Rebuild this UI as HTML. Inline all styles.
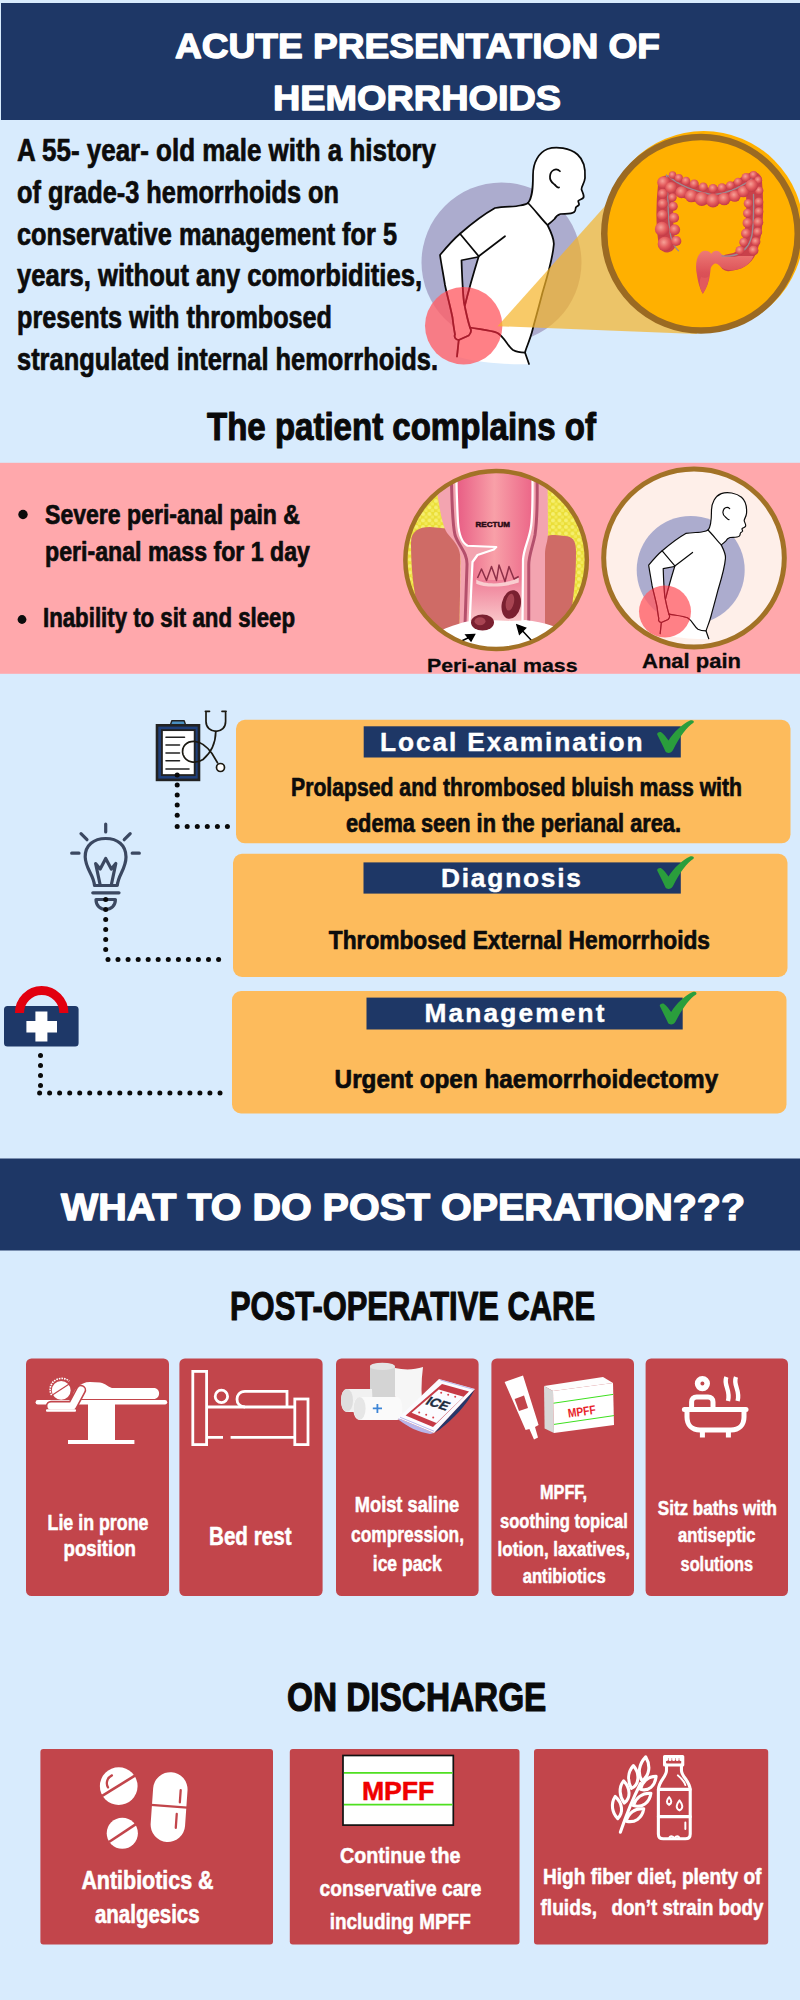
<!DOCTYPE html>
<html><head><meta charset="utf-8"><title>Acute presentation of hemorrhoids</title>
<style>
html,body{margin:0;padding:0;background:#d8ebfd;}
svg{display:block;font-family:"Liberation Sans",sans-serif;}
</style></head><body>
<svg width="800" height="2000" viewBox="0 0 800 2000">
<rect width="800" height="2000" fill="#d8ebfd"/>
<rect x="1" y="3" width="799" height="117" fill="#1e3766"/>
<text x="175" y="58" font-size="35" font-weight="bold" fill="#fff" stroke="#fff" stroke-width="1.3" stroke-linejoin="round" textLength="485" lengthAdjust="spacingAndGlyphs" >ACUTE PRESENTATION OF</text>
<text x="273" y="110" font-size="35" font-weight="bold" fill="#fff" stroke="#fff" stroke-width="1.3" stroke-linejoin="round" textLength="288" lengthAdjust="spacingAndGlyphs" >HEMORRHOIDS</text>
<text x="17" y="161.0" font-size="30.5" font-weight="bold" fill="#0c0c0c" stroke="#0c0c0c" stroke-width="0.7" stroke-linejoin="round" textLength="419" lengthAdjust="spacingAndGlyphs" >A 55- year- old male with a history</text>
<text x="17" y="202.8" font-size="30.5" font-weight="bold" fill="#0c0c0c" stroke="#0c0c0c" stroke-width="0.7" stroke-linejoin="round" textLength="322" lengthAdjust="spacingAndGlyphs" >of grade-3 hemorrhoids on</text>
<text x="17" y="244.6" font-size="30.5" font-weight="bold" fill="#0c0c0c" stroke="#0c0c0c" stroke-width="0.7" stroke-linejoin="round" textLength="380" lengthAdjust="spacingAndGlyphs" >conservative management for 5</text>
<text x="17" y="286.4" font-size="30.5" font-weight="bold" fill="#0c0c0c" stroke="#0c0c0c" stroke-width="0.7" stroke-linejoin="round" textLength="405" lengthAdjust="spacingAndGlyphs" >years, without any comorbidities,</text>
<text x="17" y="328.2" font-size="30.5" font-weight="bold" fill="#0c0c0c" stroke="#0c0c0c" stroke-width="0.7" stroke-linejoin="round" textLength="315" lengthAdjust="spacingAndGlyphs" >presents with thrombosed</text>
<text x="17" y="370.0" font-size="30.5" font-weight="bold" fill="#0c0c0c" stroke="#0c0c0c" stroke-width="0.7" stroke-linejoin="round" textLength="421" lengthAdjust="spacingAndGlyphs" >strangulated internal hemorrhoids.</text>
<defs>
<path id="manfill" fill="#fff" fill-rule="evenodd" d="M432,292 C450,270 452,230 452,180 C452,130 475,90 510,76 C545,64 600,72 630,98 C655,120 662,160 660,192 C658,215 645,225 646,238 C650,250 658,262 654,270 C650,278 636,278 633,284 C632,290 638,294 636,299 C632,305 624,306 623,311 C622,318 622,324 617,328 C605,338 580,334 562,336 C548,340 542,348 538,356 C528,366 518,374 510,380 C525,410 538,440 535,460 C530,520 505,600 490,650 C475,710 460,760 450,800 C440,840 425,870 420,890 L436,936 C380,940 250,935 148,906 L155,840 C140,838 136,826 140,818 C135,790 132,770 130,750 C120,700 108,660 100,620 C92,570 84,530 80,500 C105,470 130,440 160,415 C200,380 250,340 300,312 C340,305 380,308 400,302 C415,300 425,298 432,292 Z M232,508 L166,521 C168,580 170,640 176,690 L180,700 C195,640 215,570 232,508 Z"/>
<g id="manlines" fill="none" stroke-width="7" stroke-linecap="round" stroke-linejoin="round">
<path d="M432,292 C450,270 452,230 452,180 C452,130 475,90 510,76 C545,64 600,72 630,98 C655,120 662,160 660,192 C658,215 645,225 646,238 C650,250 658,262 654,270 C650,278 636,278 633,284 C632,290 638,294 636,299 C632,305 624,306 623,311 C622,318 622,324 617,328 C605,338 580,334 562,336 C548,340 542,348 538,356 C528,366 518,374 510,380"/>
<path d="M560,165 C545,150 522,160 520,185 C518,205 530,212 538,218 C545,224 548,232 556,230"/>
<path d="M432,292 C460,320 485,355 510,380 C525,410 538,440 535,460 C530,520 505,600 490,650 C475,710 460,760 450,800 C440,840 425,870 420,890 L436,936"/>
<path d="M432,292 C425,298 415,300 400,302 C380,308 340,305 300,312 C250,340 200,380 160,415 L235,505 L340,425"/>
<path d="M160,415 C130,440 105,470 80,500 C84,530 92,570 100,620 C108,660 120,700 130,750 C132,770 135,790 140,818 C136,826 140,838 155,840 L195,822 C205,812 206,800 200,790 C190,760 182,720 176,690 C170,640 168,580 166,521 L232,508"/>
<path d="M235,505 C215,570 195,640 180,700"/>
<path d="M155,840 L148,906"/>
<path d="M200,790 C240,798 280,800 310,812 C340,830 350,865 372,880 C390,890 405,890 420,890"/>
</g>
<clipPath id="redclip1"><circle cx="463.7" cy="325.8" r="38.7"/></clipPath>
<clipPath id="redclip2"><circle cx="665" cy="611.6" r="26"/></clipPath>
<radialGradient id="cg" cx="0.42" cy="0.38" r="0.62"><stop offset="0" stop-color="#f7a096"/><stop offset="0.55" stop-color="#e55f60"/><stop offset="1" stop-color="#c43a46"/></radialGradient>
<linearGradient id="cg2" x1="0" x2="0" y1="0" y2="1"><stop offset="0" stop-color="#ee7a76"/><stop offset="0.5" stop-color="#dc5258"/><stop offset="1" stop-color="#cc4450"/></linearGradient>
</defs>
<circle cx="501.5" cy="262.5" r="80" fill="#acacce"/>
<use href="#manfill" transform="translate(420,130) scale(0.25)"/><use href="#manlines" stroke="#0a0a0a" transform="translate(420,130) scale(0.25)"/>
<circle cx="463.7" cy="325.8" r="38.7" fill="#ff6068" fill-opacity="0.8"/>
<g clip-path="url(#redclip1)"><use href="#manlines" stroke="#a81c2c" transform="translate(420,130) scale(0.25)"/></g>
<polygon points="497.5,326.2 640,167 697,334" fill="#f5b428" fill-opacity="0.7"/>
<circle cx="703.7" cy="231.1" r="100" fill="#ffb000"/>
<circle cx="701" cy="233.8" r="96.75" fill="#ffb000" stroke="#9b6a22" stroke-width="6.5"/>
<g transform="translate(650,160) scale(0.15)">
<path d="M115,560 C95,450 95,300 110,160 C250,190 330,250 420,240 C510,235 590,190 690,135 C705,300 700,450 670,560 C650,640 600,680 520,685" fill="none" stroke="#c9414a" stroke-width="112" stroke-linecap="round" stroke-linejoin="round"/>
<path d="M690,640 C660,720 560,750 500,728 C465,715 455,690 438,690 C425,690 415,700 405,720 L400,760 C395,800 385,840 352,892 C325,840 318,800 312,760 C300,700 310,640 340,615 C365,598 395,605 408,625 C425,600 455,600 470,620 C490,645 540,655 590,640 Z" fill="url(#cg2)"/>
<path d="M352,892 C330,850 325,810 340,780 C360,790 380,785 392,775 C392,810 380,850 352,892Z" fill="#e2595c"/>
<path d="M110,100 C120,160 118,300 125,400 C130,480 140,560 190,605 M120,105 C170,150 250,200 420,232 C560,215 640,160 700,108 M690,230 C692,330 692,420 680,500 C660,590 600,650 480,640" fill="none" stroke="#9a8a92" stroke-width="9" stroke-linecap="round"/>
<circle cx="90" cy="150" r="42" fill="url(#cg)"/>
<circle cx="85" cy="225" r="33" fill="url(#cg)"/>
<circle cx="85" cy="292" r="34" fill="url(#cg)"/>
<circle cx="83" cy="368" r="36" fill="url(#cg)"/>
<circle cx="80" cy="460" r="48" fill="url(#cg)"/>
<circle cx="100" cy="560" r="49" fill="url(#cg)"/>
<circle cx="140" cy="185" r="39" fill="url(#cg)"/>
<circle cx="150" cy="250" r="28" fill="url(#cg)"/>
<circle cx="155" cy="308" r="30" fill="url(#cg)"/>
<circle cx="160" cy="385" r="34" fill="url(#cg)"/>
<circle cx="165" cy="465" r="36" fill="url(#cg)"/>
<circle cx="175" cy="540" r="34" fill="url(#cg)"/>
<circle cx="150" cy="100" r="25" fill="url(#cg)"/>
<circle cx="192" cy="120" r="27" fill="url(#cg)"/>
<circle cx="240" cy="140" r="29" fill="url(#cg)"/>
<circle cx="295" cy="160" r="30" fill="url(#cg)"/>
<circle cx="355" cy="180" r="30" fill="url(#cg)"/>
<circle cx="420" cy="190" r="30" fill="url(#cg)"/>
<circle cx="480" cy="185" r="30" fill="url(#cg)"/>
<circle cx="535" cy="170" r="28" fill="url(#cg)"/>
<circle cx="587" cy="146" r="28" fill="url(#cg)"/>
<circle cx="640" cy="116" r="30" fill="url(#cg)"/>
<circle cx="690" cy="100" r="26" fill="url(#cg)"/>
<circle cx="655" cy="290" r="30" fill="url(#cg)"/>
<circle cx="650" cy="355" r="30" fill="url(#cg)"/>
<circle cx="650" cy="420" r="33" fill="url(#cg)"/>
<circle cx="640" cy="490" r="33" fill="url(#cg)"/>
<circle cx="625" cy="548" r="30" fill="url(#cg)"/>
<circle cx="600" cy="603" r="30" fill="url(#cg)"/>
<circle cx="722" cy="135" r="26" fill="url(#cg)"/>
<circle cx="728" cy="205" r="28" fill="url(#cg)"/>
<circle cx="726" cy="280" r="30" fill="url(#cg)"/>
<circle cx="726" cy="345" r="30" fill="url(#cg)"/>
<circle cx="722" cy="415" r="33" fill="url(#cg)"/>
<circle cx="718" cy="480" r="30" fill="url(#cg)"/>
<circle cx="706" cy="545" r="30" fill="url(#cg)"/>
<circle cx="690" cy="603" r="33" fill="url(#cg)"/>
<circle cx="210" cy="215" r="40" fill="url(#cg)"/>
<circle cx="275" cy="240" r="42" fill="url(#cg)"/>
<circle cx="345" cy="260" r="46" fill="url(#cg)"/>
<circle cx="420" cy="270" r="46" fill="url(#cg)"/>
<circle cx="495" cy="260" r="42" fill="url(#cg)"/>
<circle cx="565" cy="240" r="39" fill="url(#cg)"/>
<circle cx="622" cy="210" r="39" fill="url(#cg)"/>
<circle cx="678" cy="170" r="42" fill="url(#cg)"/>
</g>
<text x="207" y="440.3" font-size="39.5" font-weight="bold" fill="#0a0a0a" stroke="#0a0a0a" stroke-width="1.1" stroke-linejoin="round" textLength="389" lengthAdjust="spacingAndGlyphs" >The patient complains of</text>
<rect x="0" y="462.8" width="800" height="211" fill="#ffa8ac"/>
<circle cx="23" cy="514.5" r="4.7" fill="#0c0c0c"/><circle cx="22" cy="619.5" r="4.4" fill="#0c0c0c"/>
<text x="45" y="523.5" font-size="27" font-weight="bold" fill="#0c0c0c" stroke="#0c0c0c" stroke-width="0.7" stroke-linejoin="round" textLength="255" lengthAdjust="spacingAndGlyphs" >Severe peri-anal pain &amp;</text>
<text x="45" y="561.3" font-size="27" font-weight="bold" fill="#0c0c0c" stroke="#0c0c0c" stroke-width="0.7" stroke-linejoin="round" textLength="265" lengthAdjust="spacingAndGlyphs" >peri-anal mass for 1 day</text>
<text x="43" y="627.3" font-size="27" font-weight="bold" fill="#0c0c0c" stroke="#0c0c0c" stroke-width="0.7" stroke-linejoin="round" textLength="252" lengthAdjust="spacingAndGlyphs" >Inability to sit and sleep</text>
<defs><clipPath id="rc"><ellipse cx="404.4" cy="400" rx="358" ry="351"/></clipPath>
<pattern id="fat" width="26" height="26" patternUnits="userSpaceOnUse"><rect width="26" height="26" fill="#ebde38"/><circle cx="8" cy="8" r="8" fill="#f6ef70"/><circle cx="20" cy="20" r="7" fill="#f3ea5a"/></pattern>
<linearGradient id="rg" x1="0" x2="1" y1="0" y2="0"><stop offset="0" stop-color="#e85c84"/><stop offset="0.5" stop-color="#f8a0a8"/><stop offset="1" stop-color="#ec6688"/></linearGradient>
<linearGradient id="rg2" x1="0" x2="0" y1="0" y2="1"><stop offset="0" stop-color="#ef7f98"/><stop offset="1" stop-color="#fbd0d0"/></linearGradient>
</defs>
<g transform="translate(395,460) scale(0.25)">
<g clip-path="url(#rc)">
<rect x="30" y="30" width="750" height="750" fill="url(#fat)"/>
<path d="M64,330 C64,285 95,268 140,268 L215,275 C250,290 262,330 262,400 L258,680 L120,680 C85,600 64,480 64,330 Z" fill="#cf6b66"/>
<path d="M588,330 C592,305 610,300 640,300 L690,305 C715,310 724,330 724,370 C724,480 712,580 690,680 L588,680 Z" fill="#cf6b66"/>
<path d="M170,40 L610,40 L612,290 C612,330 600,340 600,380 L600,680 L258,680 L262,400 C262,350 240,330 215,300 C190,275 180,200 170,140 Z" fill="#f3a4b0"/>
<path d="M225,60 C228,150 228,250 240,300 C255,345 290,370 288,420 L280,660" fill="none" stroke="#b4506c" stroke-width="12"/>
<path d="M568,60 C570,150 570,230 560,300 C550,350 535,380 535,420 L535,660" fill="none" stroke="#b4506c" stroke-width="12"/>
<path d="M245,40 L550,40 C550,120 552,200 545,260 C538,320 515,350 512,400 L510,660 L298,660 L310,408 L330,380 L395,358 L405,348 L290,343 C265,330 255,290 252,250 C248,180 246,110 245,40 Z" fill="url(#rg)"/>
<rect x="304" y="480" width="208" height="190" fill="url(#rg2)"/>
<path d="M245,40 C246,110 248,180 252,250 C255,290 265,330 290,343 L405,348 L395,358 L330,380 L310,408 L298,660" fill="none" stroke="#fff" stroke-width="9" stroke-linejoin="round"/>
<path d="M550,40 C550,120 552,200 545,260 C538,320 515,350 512,400 L510,660" fill="none" stroke="#fff" stroke-width="9"/>
<path d="M325,478 C360,500 440,500 495,470 L495,490 C440,510 360,512 325,495 Z" fill="#f9cdd0"/>
<path d="M330,472 L346,436 L366,482 L386,426 L406,482 L416,420 L440,486 L456,426 L476,476 L495,466" fill="none" stroke="#8e3048" stroke-width="6" stroke-linejoin="round"/>
<path d="M100,720 C160,690 250,650 300,645 C380,635 460,650 520,640 C600,650 660,670 720,700 L720,800 L100,800 Z" fill="#fff"/>
<ellipse cx="350" cy="650" rx="46" ry="32" fill="#7a2030"/><ellipse cx="340" cy="645" rx="22" ry="16" fill="#a84452"/>
<ellipse cx="465" cy="578" rx="38" ry="58" fill="#7a2030" transform="rotate(12 465 578)"/><ellipse cx="458" cy="570" rx="16" ry="34" fill="#a84452" transform="rotate(12 465 578)"/>
<path d="M262,726 L300,708 M318,698 L284,700 L304,724 Z" stroke="#000" stroke-width="6" fill="#000"/>
<path d="M548,724 L505,678 M488,660 L498,696 L522,672 Z" stroke="#000" stroke-width="6" fill="#000"/>
</g>
<ellipse cx="404.4" cy="400" rx="363" ry="356" fill="none" stroke="#a27226" stroke-width="18"/>
</g>
<text x="475.5" y="527" font-size="8" font-weight="bold" fill="#2a0a14" stroke="#2a0a14" stroke-width="0.5" stroke-linejoin="round" textLength="34.5" lengthAdjust="spacingAndGlyphs" >RECTUM</text>
<text x="427" y="672.1" font-size="19.2" font-weight="bold" fill="#0a0a0a" stroke="#0a0a0a" stroke-width="0.3" stroke-linejoin="round" textLength="150.5" lengthAdjust="spacingAndGlyphs" >Peri-anal mass</text>
<ellipse cx="694" cy="558" rx="90.3" ry="89" fill="#feefe9" stroke="#a27226" stroke-width="5"/>
<circle cx="690.7" cy="570" r="54" fill="#acacce"/>
<use href="#manfill" transform="translate(690.2,570.2) scale(0.675) translate(-501.5,-262.5) translate(420,130) scale(0.25)"/><use href="#manlines" stroke="#0a0a0a" transform="translate(690.2,570.2) scale(0.675) translate(-501.5,-262.5) translate(420,130) scale(0.25)"/>
<circle cx="665" cy="611.6" r="26" fill="#ff6068" fill-opacity="0.8"/>
<g clip-path="url(#redclip2)"><use href="#manlines" stroke="#a81c2c" transform="translate(690.2,570.2) scale(0.675) translate(-501.5,-262.5) translate(420,130) scale(0.25)"/></g>
<text x="642" y="667.7" font-size="19.8" font-weight="bold" fill="#0a0a0a" stroke="#0a0a0a" stroke-width="0.3" stroke-linejoin="round" textLength="99" lengthAdjust="spacingAndGlyphs" >Anal pain</text>
<rect x="236" y="719.8" width="554.5" height="123.5" rx="9" fill="#fdbb5c"/>
<rect x="233" y="853.8" width="554.5" height="123.2" rx="9" fill="#fdbb5c"/>
<rect x="232" y="991" width="554.5" height="122.5" rx="9" fill="#fdbb5c"/>
<rect x="363.7" y="726.3" width="317.1" height="31.2" fill="#1e3766"/>
<rect x="363.5" y="862.4" width="317.3" height="31.2" fill="#1e3766"/>
<rect x="366.5" y="997.6" width="316.2" height="31.9" fill="#1e3766"/>
<text x="380" y="751" font-size="26.3" font-weight="bold" fill="#fff" stroke="#fff" stroke-width="0.4" stroke-linejoin="round" textLength="262.5" lengthAdjust="spacing" >Local Examination</text>
<text x="441" y="886.9" font-size="26.3" font-weight="bold" fill="#fff" stroke="#fff" stroke-width="0.4" stroke-linejoin="round" textLength="140" lengthAdjust="spacing" >Diagnosis</text>
<text x="424.5" y="1021.9" font-size="26.3" font-weight="bold" fill="#fff" stroke="#fff" stroke-width="0.4" stroke-linejoin="round" textLength="179.9" lengthAdjust="spacing" >Management</text>
<path transform="translate(640,710) scale(0.1)" d="M172,245 C168,230 190,215 212,222 C235,235 265,275 285,305 C340,220 420,140 500,105 C525,95 548,110 535,128 C470,170 400,260 330,400 C315,430 275,440 255,415 C230,360 200,300 172,245 Z" fill="#2a9e3c"/>
<path transform="translate(640,846) scale(0.1)" d="M172,245 C168,230 190,215 212,222 C235,235 265,275 285,305 C340,220 420,140 500,105 C525,95 548,110 535,128 C470,170 400,260 330,400 C315,430 275,440 255,415 C230,360 200,300 172,245 Z" fill="#2a9e3c"/>
<path transform="translate(642.6,981.6) scale(0.1)" d="M172,245 C168,230 190,215 212,222 C235,235 265,275 285,305 C340,220 420,140 500,105 C525,95 548,110 535,128 C470,170 400,260 330,400 C315,430 275,440 255,415 C230,360 200,300 172,245 Z" fill="#2a9e3c"/>
<text x="291" y="796.4" font-size="25.5" font-weight="bold" fill="#0c0c0c" stroke="#0c0c0c" stroke-width="0.7" stroke-linejoin="round" textLength="451" lengthAdjust="spacingAndGlyphs" >Prolapsed and thrombosed bluish mass with</text>
<text x="346" y="832.4" font-size="25.5" font-weight="bold" fill="#0c0c0c" stroke="#0c0c0c" stroke-width="0.7" stroke-linejoin="round" textLength="335" lengthAdjust="spacingAndGlyphs" >edema seen in the perianal area.</text>
<text x="328.8" y="948.7" font-size="25.5" font-weight="bold" fill="#0c0c0c" stroke="#0c0c0c" stroke-width="0.7" stroke-linejoin="round" textLength="381.2" lengthAdjust="spacingAndGlyphs" >Thrombosed External Hemorrhoids</text>
<text x="334.6" y="1088" font-size="25.5" font-weight="bold" fill="#0c0c0c" stroke="#0c0c0c" stroke-width="0.7" stroke-linejoin="round" textLength="383.6" lengthAdjust="spacingAndGlyphs" >Urgent open haemorrhoidectomy</text>
<g>
<rect x="157" y="725.3" width="42" height="54.6" fill="#1f3f7a" stroke="#222" stroke-width="2.6"/>
<rect x="161.9" y="730.1" width="32.8" height="45" fill="#fff" stroke="#222" stroke-width="1.9"/>
<path d="M170.5,724.8 L171.8,720.8 L184.2,720.8 L185.5,724.8 Z" fill="#4a8fc0" stroke="#222" stroke-width="1.4" stroke-linejoin="round"/>
<g stroke="#222" stroke-width="1.6" stroke-linecap="round"><path d="M166,737.2H184.5M166,745H179.5M166,753H179.5M166,760.8H179.5M166,769H189"/></g>
<g fill="none" stroke="#1c1a12" stroke-width="1.7" stroke-linecap="round">
<path d="M205.4,711.3H209.5M222,711.3H226.1M206,711.3V721.5C206,727.5 210.5,731.3 216,731.3C221.5,731.3 225.6,727.5 225.6,721.5V711.3"/>
<path d="M215.8,731.3C215.6,742 212,752 203,759.5C196,764 186,763 183,754.5C181,746 187,741 195,741.5C202,742 208,748 212,753.5L217.5,762.8"/>
<circle cx="220.5" cy="767.5" r="4" fill="#fff"/>
</g></g>
<circle cx="177.2" cy="775.0" r="2.5" fill="#0a0a0a"/><circle cx="177.2" cy="785.0" r="2.5" fill="#0a0a0a"/><circle cx="177.2" cy="795.1" r="2.5" fill="#0a0a0a"/><circle cx="177.2" cy="805.1" r="2.5" fill="#0a0a0a"/><circle cx="177.2" cy="815.2" r="2.5" fill="#0a0a0a"/><circle cx="177.2" cy="826.5" r="2.5" fill="#0a0a0a"/><circle cx="187.2" cy="826.5" r="2.5" fill="#0a0a0a"/><circle cx="197.3" cy="826.5" r="2.5" fill="#0a0a0a"/><circle cx="207.3" cy="826.5" r="2.5" fill="#0a0a0a"/><circle cx="217.4" cy="826.5" r="2.5" fill="#0a0a0a"/><circle cx="227.4" cy="826.5" r="2.5" fill="#0a0a0a"/>
<g fill="none" stroke="#3b4861" stroke-width="3.2" stroke-linecap="round" stroke-linejoin="round">
<path d="M94.5,885.5 C94,875 85.5,869 85.2,857 C85,845 94,838.5 105.7,838.5 C117.5,838.5 126,845 126,857 C126,869 118,875 117.3,885.5 Z"/>
<path d="M100.2,885 L95.6,863.5 L100.2,869 L105.7,858.5 L111.3,869 L115.8,863.5 L111.3,885"/>
<path d="M92.8,892.8H119"/>
<path d="M96,899.5H115.4C115.4,906 111,909.5 105.7,909.5C100.4,909.5 96,906 96,899.5Z"/>
<path d="M105.7,824V832M81,833.6L87,839.7M130.2,833.6L124.2,839.7M71.7,853.2H79M132.2,853.2H139.3"/>
</g>
<circle cx="105.7" cy="899.5" r="2.5" fill="#0a0a0a"/><circle cx="105.7" cy="909.5" r="2.5" fill="#0a0a0a"/><circle cx="105.7" cy="919.5" r="2.5" fill="#0a0a0a"/><circle cx="105.7" cy="929.5" r="2.5" fill="#0a0a0a"/><circle cx="105.7" cy="939.5" r="2.5" fill="#0a0a0a"/><circle cx="105.7" cy="949.5" r="2.5" fill="#0a0a0a"/><circle cx="108.0" cy="959.6" r="2.5" fill="#0a0a0a"/><circle cx="118.0" cy="959.6" r="2.5" fill="#0a0a0a"/><circle cx="128.1" cy="959.6" r="2.5" fill="#0a0a0a"/><circle cx="138.2" cy="959.6" r="2.5" fill="#0a0a0a"/><circle cx="148.2" cy="959.6" r="2.5" fill="#0a0a0a"/><circle cx="158.2" cy="959.6" r="2.5" fill="#0a0a0a"/><circle cx="168.3" cy="959.6" r="2.5" fill="#0a0a0a"/><circle cx="178.4" cy="959.6" r="2.5" fill="#0a0a0a"/><circle cx="188.4" cy="959.6" r="2.5" fill="#0a0a0a"/><circle cx="198.4" cy="959.6" r="2.5" fill="#0a0a0a"/><circle cx="208.5" cy="959.6" r="2.5" fill="#0a0a0a"/><circle cx="218.6" cy="959.6" r="2.5" fill="#0a0a0a"/>
<g>
<rect x="4" y="1006" width="74.6" height="40.5" rx="3.5" fill="#1e3868"/>
<path d="M19.5,1013 A22.2,22.4 0 0 1 63.9,1013" fill="none" stroke="#e2000f" stroke-width="9"/>
<path d="M35.4,1011.4H47.4V1021H57V1032.4H47.4V1041.4H35.4V1032.4H26.4V1021H35.4Z" fill="#fff"/>
</g>
<circle cx="40.5" cy="1055.5" r="2.5" fill="#0a0a0a"/><circle cx="40.5" cy="1065.5" r="2.5" fill="#0a0a0a"/><circle cx="40.5" cy="1075.5" r="2.5" fill="#0a0a0a"/><circle cx="40.5" cy="1085.5" r="2.5" fill="#0a0a0a"/><circle cx="39.6" cy="1093" r="2.5" fill="#0a0a0a"/><circle cx="49.6" cy="1093" r="2.5" fill="#0a0a0a"/><circle cx="59.6" cy="1093" r="2.5" fill="#0a0a0a"/><circle cx="69.7" cy="1093" r="2.5" fill="#0a0a0a"/><circle cx="79.7" cy="1093" r="2.5" fill="#0a0a0a"/><circle cx="89.7" cy="1093" r="2.5" fill="#0a0a0a"/><circle cx="99.7" cy="1093" r="2.5" fill="#0a0a0a"/><circle cx="109.7" cy="1093" r="2.5" fill="#0a0a0a"/><circle cx="119.8" cy="1093" r="2.5" fill="#0a0a0a"/><circle cx="129.8" cy="1093" r="2.5" fill="#0a0a0a"/><circle cx="139.8" cy="1093" r="2.5" fill="#0a0a0a"/><circle cx="149.8" cy="1093" r="2.5" fill="#0a0a0a"/><circle cx="159.8" cy="1093" r="2.5" fill="#0a0a0a"/><circle cx="169.9" cy="1093" r="2.5" fill="#0a0a0a"/><circle cx="179.9" cy="1093" r="2.5" fill="#0a0a0a"/><circle cx="189.9" cy="1093" r="2.5" fill="#0a0a0a"/><circle cx="199.9" cy="1093" r="2.5" fill="#0a0a0a"/><circle cx="209.9" cy="1093" r="2.5" fill="#0a0a0a"/><circle cx="220.0" cy="1093" r="2.5" fill="#0a0a0a"/>
<rect x="0" y="1158.5" width="800" height="92" fill="#1e3766"/>
<text x="61" y="1220" font-size="36" font-weight="bold" fill="#fff" stroke="#fff" stroke-width="1.3" stroke-linejoin="round" textLength="684" lengthAdjust="spacingAndGlyphs" >WHAT TO DO POST OPERATION???</text>
<text x="230" y="1320" font-size="40" font-weight="bold" fill="#0a0a0a" stroke="#0a0a0a" stroke-width="1.1" stroke-linejoin="round" textLength="365" lengthAdjust="spacingAndGlyphs" >POST-OPERATIVE CARE</text>
<rect x="26" y="1358.4" width="143" height="237.6" rx="5.5" fill="#c2454b"/>
<rect x="179.4" y="1358.4" width="143.2" height="237.6" rx="5.5" fill="#c2454b"/>
<rect x="336" y="1358.4" width="142.6" height="237.6" rx="5.5" fill="#c2454b"/>
<rect x="491.4" y="1358.4" width="142.6" height="237.6" rx="5.5" fill="#c2454b"/>
<rect x="645.6" y="1358.4" width="142.4" height="237.6" rx="5.5" fill="#c2454b"/>
<g transform="translate(20,1350) scale(0.2)" fill="#fff">
<rect x="78" y="250" width="658" height="22" rx="11"/>
<rect x="340" y="265" width="135" height="190"/>
<rect x="240" y="450" width="332" height="20"/>
<path d="M262,245 C262,200 300,160 350,160 L400,162 C430,166 440,190 470,190 L668,190 C705,190 705,245 668,245 Z"/>
<circle cx="206" cy="202" r="47"/>
<path d="M160,226 L246,170" stroke="#c2454b" stroke-width="6"/>
<path d="M158,226 C142,198 152,160 186,146 C207,138 232,142 246,156" fill="none" stroke="#fff" stroke-width="8" stroke-dasharray="8 5"/>
<path d="M305,200 L262,280 L155,280" fill="none" stroke="#c2454b" stroke-width="52" stroke-linecap="round" stroke-linejoin="round"/>
<path d="M305,200 L262,280 L155,280" fill="none" stroke="#fff" stroke-width="36" stroke-linecap="round" stroke-linejoin="round"/>
<rect x="130" y="296" width="150" height="13" rx="5"/>
</g>
<g transform="translate(175,1350) scale(0.2)" fill="none" stroke="#fff" stroke-width="14">
<rect x="89" y="107" width="69" height="366"/>
<rect x="599" y="245" width="66" height="228"/>
<path d="M158,285H599M158,437H240M278,437H599"/>
<circle cx="232" cy="232" r="31"/>
<path d="M560,285V207H350C322,207 310,228 310,246C310,264 322,285 350,285"/>
</g>
<g transform="translate(330,1350) scale(0.2)">
<path d="M325,90 C370,100 420,100 465,85 C455,160 455,230 465,300 L340,330 L325,230 Z" fill="#f6f6f6"/>
<path d="M200,85 C200,60 325,60 325,85 L325,235 L200,235 Z" fill="#d4d4d4"/>
<ellipse cx="262" cy="82" rx="62" ry="18" fill="#e4e4e4"/>
<path d="M85,195 L210,195 L215,310 L85,310 C45,310 45,195 85,195 Z" fill="#f1f1f1"/>
<ellipse cx="85" cy="252" rx="30" ry="57" fill="#dedede"/>
<path d="M150,235 L335,235 C370,235 370,350 335,350 L150,350 C105,350 105,235 150,235 Z" fill="#fafafa"/>
<ellipse cx="148" cy="292" rx="30" ry="57" fill="#e6e6e6"/>
<path d="M237,270V315M214,292H260" stroke="#3d85d6" stroke-width="9" fill="none"/>
<path d="M340,340 L520,415 L500,420 C440,410 390,385 345,350 Z" fill="#b9b6ea"/>
<path d="M725,195 L520,415 L545,400 C620,340 680,280 725,195 Z" fill="#27386a"/>
<path d="M545,145 L725,195 L520,415 L340,340 Z" fill="#fbfbff"/>
<path d="M552,150 L718,197 M350,336 L520,406" stroke="#8f8de0" stroke-width="3" fill="none"/>
<path d="M560,170 L695,208 L515,385 L378,328 Z" fill="#c63a46"/>
<path d="M544,198 L668,234 L532,365 L408,314 Z" fill="#fbfbff"/>
<g fill="#d8404c"><circle cx="556" cy="214" r="5"/><circle cx="591" cy="224" r="5"/><circle cx="626" cy="234" r="5"/><circle cx="446" cy="312" r="5"/><circle cx="481" cy="324" r="5"/><circle cx="516" cy="337" r="5"/></g>
<text x="0" y="0" transform="translate(472,270) rotate(17) skewX(-20)" font-size="64" font-weight="bold" fill="#1d2b3f" stroke="#1d2b3f" stroke-width="2" textLength="112" lengthAdjust="spacingAndGlyphs">ICE</text>
</g>
<g transform="translate(485,1350) scale(0.2)">
<path d="M98,160 L190,128 L268,375 L250,385 L265,438 L245,447 L222,395 L203,400 Z" fill="#fff"/>
<path d="M148,245 L195,228 L215,290 L170,305 Z" fill="#c2454b"/>
<path d="M295,180 L590,135 L640,165 L340,205 Z" fill="#fdfdfd"/>
<path d="M295,180 L340,205 L345,415 L298,392 Z" fill="#d8d8d8"/>
<path d="M340,205 L640,165 L645,375 L345,415 Z" fill="#fff"/>
<path d="M343,266 L641,222 M345,372 L645,328" stroke="#3ee01f" stroke-width="5" fill="none"/>
<text transform="translate(417,338) rotate(-8)" font-size="62" font-weight="bold" fill="#e8232a" textLength="140" lengthAdjust="spacingAndGlyphs">MPFF</text>
</g>
<g transform="translate(640,1350) scale(0.2)" fill="none" stroke="#fff" stroke-width="25">
<circle cx="312" cy="168" r="24" stroke-width="28"/>
<path d="M258,297V260C258,245 268,235 283,235H340C355,235 365,245 365,260V297"/>
<path d="M222,297H530" stroke-linecap="round"/>
<path d="M235,300V335C235,375 260,400 300,400H455C495,400 520,375 520,335V300"/>
<path d="M312,400V437M442,400V437"/>
<path d="M432,135C415,175 455,200 440,255M480,135C463,175 503,200 488,255" stroke-width="22"/>
</g>
<text x="47.5" y="1530" font-size="22" font-weight="bold" fill="#fff" stroke="#fff" stroke-width="0.5" stroke-linejoin="round" textLength="101.0" lengthAdjust="spacingAndGlyphs" >Lie in prone</text>
<text x="63.5" y="1556" font-size="22" font-weight="bold" fill="#fff" stroke="#fff" stroke-width="0.5" stroke-linejoin="round" textLength="72.5" lengthAdjust="spacingAndGlyphs" >position</text>
<text x="209" y="1545" font-size="25" font-weight="bold" fill="#fff" stroke="#fff" stroke-width="0.5" stroke-linejoin="round" textLength="82.5" lengthAdjust="spacingAndGlyphs" >Bed rest</text>
<text x="354.8" y="1511.6" font-size="21.5" font-weight="bold" fill="#fff" stroke="#fff" stroke-width="0.5" stroke-linejoin="round" textLength="104.4" lengthAdjust="spacingAndGlyphs" >Moist saline</text>
<text x="351" y="1541.5" font-size="21.5" font-weight="bold" fill="#fff" stroke="#fff" stroke-width="0.5" stroke-linejoin="round" textLength="113" lengthAdjust="spacingAndGlyphs" >compression,</text>
<text x="372.8" y="1571.3" font-size="21.5" font-weight="bold" fill="#fff" stroke="#fff" stroke-width="0.5" stroke-linejoin="round" textLength="69.0" lengthAdjust="spacingAndGlyphs" >ice pack</text>
<text x="540" y="1499" font-size="20" font-weight="bold" fill="#fff" stroke="#fff" stroke-width="0.5" stroke-linejoin="round" textLength="47" lengthAdjust="spacingAndGlyphs" >MPFF,</text>
<text x="500" y="1527.8" font-size="20" font-weight="bold" fill="#fff" stroke="#fff" stroke-width="0.5" stroke-linejoin="round" textLength="127.8" lengthAdjust="spacingAndGlyphs" >soothing topical</text>
<text x="497.6" y="1556" font-size="20" font-weight="bold" fill="#fff" stroke="#fff" stroke-width="0.5" stroke-linejoin="round" textLength="132.4" lengthAdjust="spacingAndGlyphs" >lotion, laxatives,</text>
<text x="522.8" y="1583" font-size="20" font-weight="bold" fill="#fff" stroke="#fff" stroke-width="0.5" stroke-linejoin="round" textLength="82.8" lengthAdjust="spacingAndGlyphs" >antibiotics</text>
<text x="657.8" y="1514.6" font-size="20" font-weight="bold" fill="#fff" stroke="#fff" stroke-width="0.5" stroke-linejoin="round" textLength="119.2" lengthAdjust="spacingAndGlyphs" >Sitz baths with</text>
<text x="678" y="1542.4" font-size="20" font-weight="bold" fill="#fff" stroke="#fff" stroke-width="0.5" stroke-linejoin="round" textLength="77.6" lengthAdjust="spacingAndGlyphs" >antiseptic</text>
<text x="680.6" y="1571" font-size="20" font-weight="bold" fill="#fff" stroke="#fff" stroke-width="0.5" stroke-linejoin="round" textLength="72.4" lengthAdjust="spacingAndGlyphs" >solutions</text>
<text x="287" y="1711.3" font-size="41.5" font-weight="bold" fill="#0a0a0a" stroke="#0a0a0a" stroke-width="1.2" stroke-linejoin="round" textLength="259.3" lengthAdjust="spacingAndGlyphs" >ON DISCHARGE</text>
<rect x="40.4" y="1749.1" width="232.6" height="195.4" rx="3" fill="#c2454b"/>
<rect x="289.8" y="1749.1" width="229.7" height="195.4" rx="3" fill="#c2454b"/>
<rect x="534" y="1749.1" width="234.2" height="195.4" rx="3" fill="#c2454b"/>
<g transform="translate(30,1660) scale(0.325)">
<circle cx="273" cy="388" r="58" fill="#fff"/>
<path d="M222,418 L324,355" stroke="#c2454b" stroke-width="8"/>
<path d="M240,392 C232,378 238,362 252,355" stroke="#c2454b" stroke-width="7" fill="none" stroke-linecap="round"/>
<circle cx="284" cy="533" r="48" fill="#fff"/>
<path d="M243,560 L326,505" stroke="#c2454b" stroke-width="8"/>
<g transform="rotate(4 428 452)">
<rect x="375" y="345" width="106" height="215" rx="53" fill="#fff"/>
<path d="M372,450H484" stroke="#c2454b" stroke-width="7"/>
<path d="M460,398V436M453,472V515" stroke="#c2454b" stroke-width="7" stroke-linecap="round"/>
</g>
</g>
<text x="81.4" y="1888.5" font-size="25.5" font-weight="bold" fill="#fff" stroke="#fff" stroke-width="0.6" stroke-linejoin="round" textLength="132.2" lengthAdjust="spacingAndGlyphs" >Antibiotics &amp;</text>
<text x="95" y="1923.3" font-size="25.5" font-weight="bold" fill="#fff" stroke="#fff" stroke-width="0.6" stroke-linejoin="round" textLength="104.6" lengthAdjust="spacingAndGlyphs" >analgesics</text>
<rect x="343" y="1755.5" width="110.3" height="69.6" fill="#fff" stroke="#111" stroke-width="1.7"/>
<path d="M344,1772.8H452.5M344,1804.6H452.5" stroke="#4fe020" stroke-width="1.8"/>
<text x="361.9" y="1799.7" font-size="26" font-weight="bold" fill="#f00000" stroke="#f00000" stroke-width="0.5" stroke-linejoin="round" textLength="72.5" lengthAdjust="spacingAndGlyphs" >MPFF</text>
<text x="340" y="1863" font-size="22.5" font-weight="bold" fill="#fff" stroke="#fff" stroke-width="0.5" stroke-linejoin="round" textLength="120.4" lengthAdjust="spacingAndGlyphs" >Continue the</text>
<text x="319.6" y="1896.3" font-size="22.5" font-weight="bold" fill="#fff" stroke="#fff" stroke-width="0.5" stroke-linejoin="round" textLength="161.9" lengthAdjust="spacingAndGlyphs" >conservative care</text>
<text x="329.7" y="1929" font-size="22.5" font-weight="bold" fill="#fff" stroke="#fff" stroke-width="0.5" stroke-linejoin="round" textLength="141.1" lengthAdjust="spacingAndGlyphs" >including MPFF</text>
<g transform="translate(530,1660) scale(0.325)" fill="none" stroke="#fff" stroke-width="9.5" stroke-linecap="round" stroke-linejoin="round">
<path d="M278,530 C295,480 315,430 340,380"/>
<path d="M356,298 C335,320 330,350 345,372 C368,355 372,325 356,298Z"/>
<path d="M318,325 C300,345 300,372 312,395 C335,385 340,350 318,325Z"/>
<path d="M388,358 C362,358 345,375 340,398 C365,405 385,388 388,358Z"/>
<path d="M288,372 C272,392 275,420 290,440 C310,425 310,395 288,372Z"/>
<path d="M372,410 C345,408 325,425 318,448 C345,455 368,440 372,410Z"/>
<path d="M262,420 C248,442 252,470 270,488 C288,470 285,440 262,420Z"/>
<path d="M350,458 C322,455 302,472 296,496 C322,502 345,488 350,458Z"/>
<path d="M414,297H470V323H414Z M420,297V306M431,297V306M442,297V306M453,297V306M464,297V306"/>
<path d="M420,323V340C420,360 395,372 395,400V535C395,545 400,550 410,550H478C488,550 493,545 493,535V400C493,372 466,360 466,340V323"/>
<path d="M395,398H493M395,482H493"/>
<path d="M428,422C420,432 418,440 428,446C438,440 436,432 428,422Z M460,432C450,445 447,456 460,463C473,456 470,445 460,432Z" stroke-width="6"/>
<path d="M428,550C430,540 440,540 444,550C448,540 458,540 460,550" stroke-width="6"/>
<path d="M455,355C465,365 475,372 478,385M478,500V520" stroke-width="6"/>
</g>
<text x="543" y="1883.6" font-size="21.5" font-weight="bold" fill="#fff" stroke="#fff" stroke-width="0.5" stroke-linejoin="round" textLength="218.4" lengthAdjust="spacingAndGlyphs" >High fiber diet, plenty of</text>
<text x="540.4" y="1914.5" font-size="21.5" font-weight="bold" fill="#fff" stroke="#fff" stroke-width="0.5" stroke-linejoin="round" textLength="56.6" lengthAdjust="spacingAndGlyphs" >fluids,</text>
<text x="611.5" y="1914.5" font-size="21.5" font-weight="bold" fill="#fff" stroke="#fff" stroke-width="0.5" stroke-linejoin="round" textLength="151.8" lengthAdjust="spacingAndGlyphs" >don’t strain body</text>
</svg>
</body></html>
